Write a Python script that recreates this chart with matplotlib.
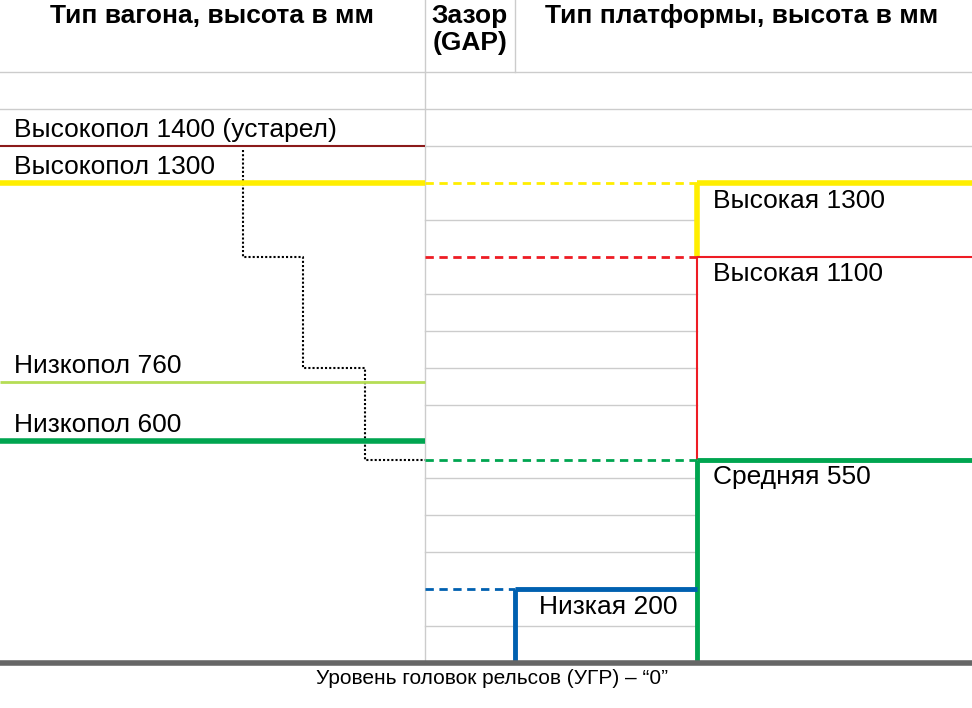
import matplotlib.pyplot as plt

plt.rcParams['font.family'] = 'Liberation Sans'

# heights in mm
car_labels = ['Высокопол 1400 (устарел)', 'Высокопол 1300', 'Низкопол 760', 'Низкопол 600']
car_heights = [1400, 1300, 760, 600]
car_colors = ['#8b1a1a', '#ffee00', '#b5dd55', '#00a550']
car_widths = [1.5, 4, 2, 4]

plat_labels = ['Высокая 1300', 'Высокая 1100', 'Средняя 550', 'Низкая 200']
plat_tops = [1300, 1100, 550, 200]
plat_bottoms = [1100, 550, 0, 0]
plat_colors = ['#ffee00', '#ee1c24', '#00a550', '#0060b0']
plat_widths = [4, 1.5, 3.5, 3.5]
plat_x = [697, 697, 697, 515]

grid_mm = [1200, 1000, 900, 800, 700, 500, 400, 300, 100]
stair_x = [243, 243, 303, 303, 365, 365, 425]
stair_y = [1390, 1100, 1100, 800, 800, 550, 550]

fig = plt.figure(figsize=(9.72, 7.08), dpi=100)
ax = fig.add_axes([0, 0, 1, 1])
ax.set_xlim(0, 972)
ax.set_ylim(-122, 1796)
ax.axis('off')

gc = '#cccccc'
for g in grid_mm:
    ax.plot([425, 697], [g, g], color=gc, lw=1)
ax.plot([425, 972], [1400, 1400], color=gc, lw=1)
ax.plot([0, 972], [1500, 1500], color=gc, lw=1)
ax.plot([0, 972], [1600, 1600], color=gc, lw=1)
ax.plot([425, 425], [0, 1796], color=gc, lw=1)
ax.plot([515, 515], [1600, 1796], color=gc, lw=1)

ax.plot(stair_x, stair_y, color='black', lw=1.5, ls=(0, (1, 1)))

for lab, h, c, w in zip(car_labels, car_heights, car_colors, car_widths):
    ax.plot([0, 425], [h, h], color=c, lw=w, solid_capstyle='butt')
    ax.text(14, h + 12, lab, fontsize=19, va='bottom', ha='left')

for lab, h, b, c, w, x in zip(plat_labels, plat_tops, plat_bottoms, plat_colors, plat_widths, plat_x):
    ax.plot([425, x], [h, h], color=c, lw=2, ls=(0, (3, 2)))
    ax.plot([x, 972 if x == 697 else 697], [h, h], color=c, lw=w, solid_capstyle='butt')
    ax.plot([x, x], [h, b], color=c, lw=w, solid_capstyle='butt')
    tx = x + 16 if x == 697 else x + 24
    ax.text(tx, h - 15, lab, fontsize=19, va='top', ha='left')

ax.plot([0, 972], [0, 0], color='#666666', lw=4, solid_capstyle='butt')

ax.text(212, 1785, 'Тип вагона, высота в мм', fontsize=19, fontweight='bold', ha='center', va='top')
ax.text(470, 1785, 'Зазор\n(GAP)', fontsize=19, fontweight='bold', ha='center', va='top', linespacing=1.15)
ax.text(742, 1785, 'Тип платформы, высота в мм', fontsize=19, fontweight='bold', ha='center', va='top')
ax.text(492, -15, 'Уровень головок рельсов (УГР) – “0”', fontsize=15, ha='center', va='top')

fig.savefig('out.png', dpi=100)
